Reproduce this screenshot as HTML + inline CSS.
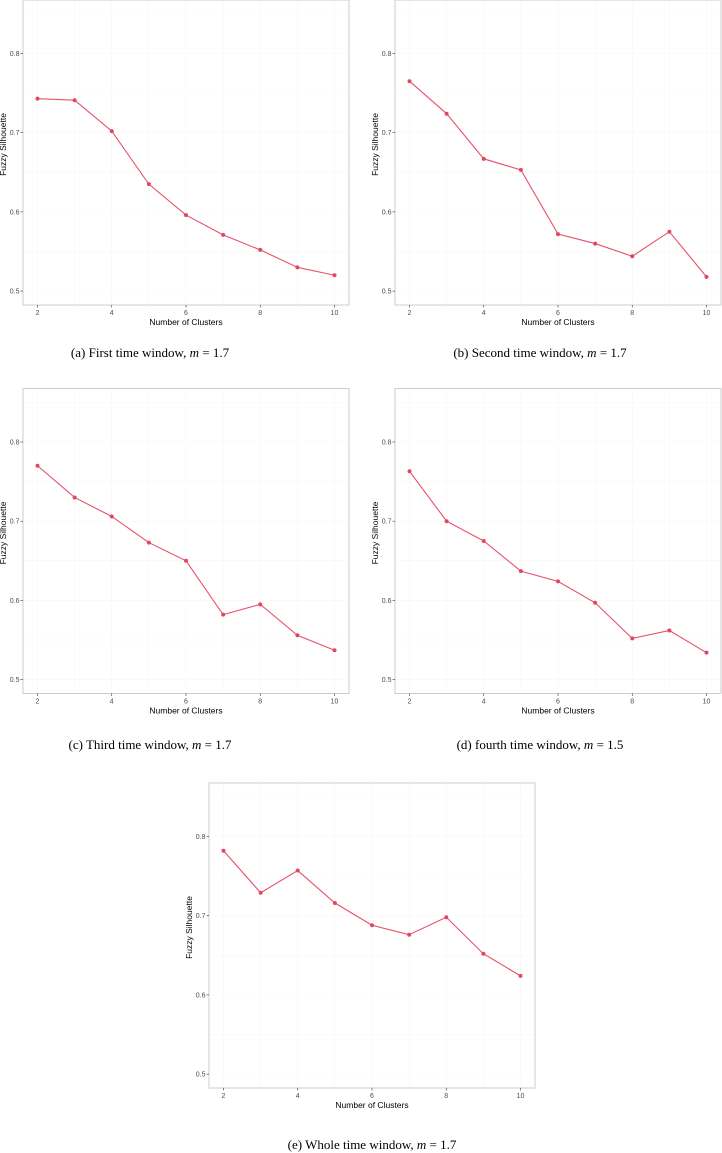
<!DOCTYPE html>
<html><head><meta charset="utf-8"><style>
html,body{margin:0;padding:0;background:#fff;}
svg{display:block;}
.tick{font-family:"Liberation Sans",sans-serif;font-size:7px;fill:#4d4d4d;}
.axt{font-family:"Liberation Sans",sans-serif;font-size:8.5px;fill:#000;}
.cap{font-family:"Liberation Serif",serif;font-size:13px;fill:#000;}
</style></head><body>
<svg id="fig" width="722" height="1153" viewBox="0 0 722 1153" xmlns="http://www.w3.org/2000/svg"></svg>
<script>
const clusters = [2,3,4,5,6,7,8,9,10];
const seriesA = [0.743,0.741,0.702,0.635,0.596,0.571,0.552,0.530,0.520];
const seriesB = [0.765,0.724,0.667,0.653,0.572,0.560,0.544,0.575,0.518];
const seriesC = [0.770,0.730,0.706,0.673,0.650,0.582,0.595,0.556,0.537];
const seriesD = [0.763,0.700,0.675,0.637,0.624,0.597,0.552,0.562,0.534];
const seriesE = [0.782,0.729,0.757,0.716,0.688,0.676,0.698,0.652,0.624];
const yTicks = [0.5,0.6,0.7,0.8];
const yTickLabels = ["0.5","0.6","0.7","0.8"];
const xTicks = [2,4,6,8,10];
const xTickLabels = ["2","4","6","8","10"];
const captions = ["(a)  First time window, ","(b)  Second time window, ","(c)  Third time window, ","(d)  fourth time window, ","(e)  Whole time window, "];
const mValues = ["1.7","1.7","1.7","1.5","1.7"];

const NS="http://www.w3.org/2000/svg";
const svg=document.getElementById('fig');
function mk(tag,attrs,parent){const e=document.createElementNS(NS,tag);for(const k in attrs)e.setAttribute(k,attrs[k]);(parent||svg).appendChild(e);return e;}

const panels=[
 {L:23,T:0,data:seriesA,name:'a',cx:150,cy:357},
 {L:395,T:0,data:seriesB,name:'b',cx:540,cy:357},
 {L:23,T:388.5,data:seriesC,name:'c',cx:150,cy:749},
 {L:395,T:388.5,data:seriesD,name:'d',cx:540,cy:749},
 {L:209,T:783,data:seriesE,name:'e',cx:372,cy:1149}
];
const W=326,H=305;
panels.forEach((p,i)=>{
  const g=mk('g',{});
  
  
  const xs=v=>p.L+14.5+(v-2)*(297/8);
  const ys=v=>p.T+53.5+(0.8-v)*792;
  [0.55,0.65,0.75,0.85].concat(yTicks).forEach(v=>{
    const l=mk('line',{x1:p.L,x2:p.L+W,y1:ys(v),y2:ys(v),stroke:'#f6f6f6','stroke-width':0.5},g);
    
    
  });
  [2,3,4,5,6,7,8,9,10].forEach(v=>{
    const l=mk('line',{x1:xs(v),x2:xs(v),y1:p.T,y2:p.T+H,stroke:'#f6f6f6','stroke-width':0.5},g);
    
    
  });
  const r=mk('rect',{x:p.L,y:p.T,width:W,height:H,fill:'none',stroke:'#cccccc','stroke-width':1},g);
  
  
  yTicks.forEach((v,k)=>{
    mk('line',{x1:p.L-2.5,x2:p.L,y1:ys(v),y2:ys(v),stroke:'#333','stroke-width':0.6},g);
    const t=mk('text',{x:p.L-3.5,y:ys(v)+2.5,'text-anchor':'end',class:'tick'},g);
    t.textContent=yTickLabels[k];
    
    
  });
  xTicks.forEach((v,k)=>{
    mk('line',{x1:xs(v),x2:xs(v),y1:p.T+H,y2:p.T+H+2.5,stroke:'#333','stroke-width':0.6},g);
    const t=mk('text',{x:xs(v),y:p.T+H+10,'text-anchor':'middle',class:'tick'},g);
    t.textContent=xTickLabels[k];
    
    
  });
  const xt=mk('text',{x:p.L+W/2,y:p.T+H+20,'text-anchor':'middle',class:'axt'},g);
  xt.textContent='Number of Clusters';
  
  
  const yx=p.L-17, yy=p.T+H/2-8;
  const yt=mk('text',{x:yx,y:yy,'text-anchor':'middle',class:'axt',transform:`rotate(-90 ${yx} ${yy})`},g);
  yt.textContent='Fuzzy Silhouette';
  
  
  const pts=clusters.map((c,k)=>xs(c)+','+ys(p.data[k])).join(' ');
  const pl=mk('polyline',{points:pts,fill:'none',stroke:'#e8506a','stroke-width':1.1},g);
  
  
  clusters.forEach((c,k)=>{
    const d=mk('circle',{cx:xs(c),cy:ys(p.data[k]),r:2,fill:'#e04862'},g);
    
    
  });
  const cap=mk('text',{x:p.cx,y:p.cy,'text-anchor':'middle',class:'cap'},g);
  
  
  cap.appendChild(document.createTextNode(captions[i]));
  const ts=document.createElementNS(NS,'tspan');ts.setAttribute('font-style','italic');ts.textContent='m';cap.appendChild(ts);
  cap.appendChild(document.createTextNode(' = '+mValues[i]));
});
</script>
</body></html>
